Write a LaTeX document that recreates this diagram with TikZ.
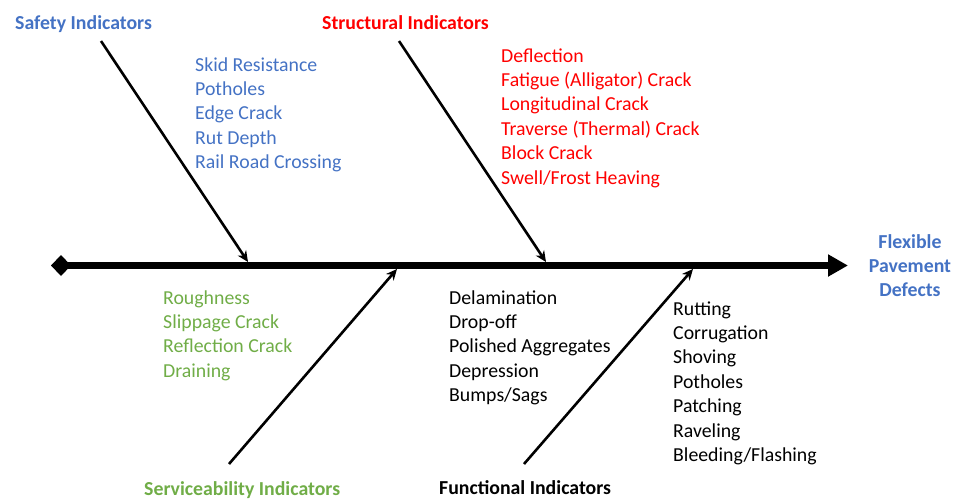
\documentclass[tikz,border=0pt]{standalone}
\usepackage{fontspec}
\setmainfont{Carlito}
\usetikzlibrary{arrows.meta}
\definecolor{cblue}{HTML}{4472C4}
\definecolor{cred}{HTML}{FF0000}
\definecolor{cgreen}{HTML}{70AD47}
\begin{document}
\begin{tikzpicture}[x=1pt,y=-1pt,
  txt/.style={inner sep=0pt,anchor=base west,font=\fontsize{19.8}{24.4}\selectfont},
  head/.style={txt,font=\fontsize{19.8}{24.4}\selectfont\bfseries},
  bone/.style={line width=2.6pt,-{Stealth[length=11pt,width=10pt]}},
  spine/.style={line width=6.5pt,{Diamond[length=20pt,width=21pt]}-{Triangle[length=20pt,width=21pt]}}]
\useasboundingbox (0,0) rectangle (962,499);
% spine
\coordinate (tail) at (51,265.5);
\coordinate (head) at (848,265.5);
\draw[spine] (tail) -- (head);
% headers
\node[head,text=cblue] (safety) at (15,29) {Safety Indicators};
\node[head,text=cred] (struct) at (322,29) {Structural Indicators};
\node[head,text=cgreen] (serv) at (144,495) {Serviceability Indicators};
\node[head] (func) at (439,494) {Functional Indicators};
\node[head,anchor=base,text=cblue] (eff1) at (910,248) {Flexible};
\node[head,anchor=base,text=cblue] (eff2) at (910,272.4) {Pavement};
\node[head,anchor=base,text=cblue] (eff3) at (910,296.8) {Defects};
% bones
\coordinate (sa0) at (101,41);  \coordinate (sa1) at (248,262);
\coordinate (st0) at (399,41);  \coordinate (st1) at (546,262);
\coordinate (se0) at (229,464); \coordinate (se1) at (397,269);
\coordinate (fu0) at (524,464); \coordinate (fu1) at (693,269);
\draw[bone] (sa0) -- (sa1);
\draw[bone] (st0) -- (st1);
\draw[bone] (se0) -- (se1);
\draw[bone] (fu0) -- (fu1);
% lists
\foreach \t [count=\i] in {Skid Resistance, Potholes, Edge Crack, Rut Depth, Rail Road Crossing}
  \node[txt,text=cblue] (sf\i) at (195,{71+24.4*(\i-1)}) {\t};
\foreach \t [count=\i] in {Deflection, Fatigue (Alligator) Crack, Longitudinal Crack, Traverse (Thermal) Crack, Block Crack, Swell/Frost Heaving}
  \node[txt,text=cred] (sr\i) at (501,{62+24.4*(\i-1)}) {\t};
\foreach \t [count=\i] in {Roughness, Slippage Crack, Reflection Crack, Draining}
  \node[txt,text=cgreen] (sv\i) at (163,{304+24.4*(\i-1)}) {\t};
\foreach \t [count=\i] in {Delamination, Drop-off, Polished Aggregates, Depression, Bumps/Sags}
  \node[txt] (fa\i) at (449,{304+24.4*(\i-1)}) {\t};
\foreach \t [count=\i] in {Rutting, Corrugation, Shoving, Potholes, Patching, Raveling, Bleeding/Flashing}
  \node[txt] (fb\i) at (673,{315+24.4*(\i-1)}) {\t};
\end{tikzpicture}
\end{document}
